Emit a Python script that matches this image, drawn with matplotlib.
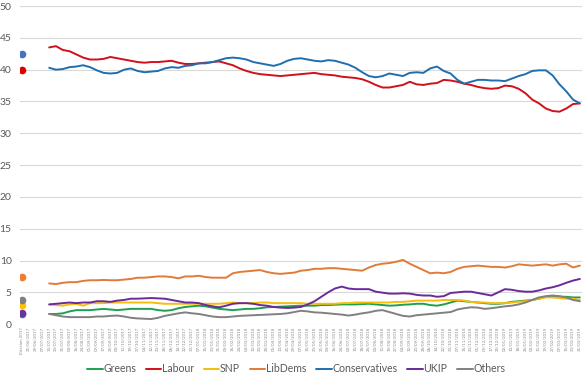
import numpy as np
import pandas as pd
import matplotlib
matplotlib.use('Agg')
import matplotlib.pyplot as plt

plt.rcParams['font.family'] = ['Lato', 'DejaVu Sans']

# category axis: first slot is the 2017 general election, then poll dates
poll_dates = pd.date_range('2017-06-21', periods=82, freq='8D')
tick_labels = ['Election 2017'] + [d.strftime('%d/%m/%Y') for d in poll_dates]
first_poll = 4  # rolling averages start a few slots after the election

parties = ['Greens', 'Labour', 'SNP', 'LibDems', 'Conservatives', 'UKIP', 'Others']
colors = ['#1FA050', '#D0101A', '#F5BE0A', '#E07B39', '#1F6FB0', '#6A2A9C', '#808080']
dot_colors = ['#1F8FA0', '#E00000', '#FFC000', '#ED7D31', '#4472C4', '#7030A0', '#7F7F7F']

election = [1.6, 40.0, 3.0, 7.4, 42.4, 1.8, 3.8]

labour = [43.5, 43.7, 43.1, 42.9, 42.4, 41.9, 41.6, 41.6, 41.7, 42.0,
          41.8, 41.6, 41.4, 41.2, 41.1, 41.2, 41.2, 41.3, 41.4, 41.1,
          40.9, 40.9, 41.0, 41.1, 41.2, 41.3, 41.0, 40.7, 40.2, 39.8,
          39.5, 39.3, 39.2, 39.1, 39.0, 39.1, 39.2, 39.3, 39.4, 39.5,
          39.3, 39.2, 39.1, 38.9, 38.8, 38.7, 38.5, 38.1, 37.6, 37.2,
          37.2, 37.4, 37.6, 38.1, 37.7, 37.6, 37.8, 37.9, 38.4, 38.3,
          38.1, 37.8, 37.6, 37.3, 37.1, 37.0, 37.1, 37.5, 37.4, 37.0,
          36.3, 35.3, 34.7, 33.9, 33.5, 33.4, 33.9, 34.6, 34.7]
conservatives = [40.3, 40.0, 40.1, 40.4, 40.5, 40.7, 40.4, 39.9, 39.5, 39.4,
                 39.5, 40.0, 40.2, 39.8, 39.6, 39.7, 39.8, 40.2, 40.4, 40.3,
                 40.6, 40.7, 41.0, 41.0, 41.2, 41.5, 41.8, 41.9, 41.8, 41.6,
                 41.2, 41.0, 40.8, 40.6, 40.9, 41.4, 41.7, 41.8, 41.6, 41.4,
                 41.3, 41.5, 41.4, 41.1, 40.8, 40.3, 39.6, 39.0, 38.8, 39.0,
                 39.4, 39.2, 39.0, 39.5, 39.6, 39.5, 40.2, 40.5, 39.8, 39.4,
                 38.4, 37.8, 38.1, 38.4, 38.4, 38.3, 38.3, 38.2, 38.6, 39.0,
                 39.3, 39.8, 39.9, 39.9, 39.1, 37.7, 36.6, 35.3, 34.7]
libdems = [6.4, 6.3, 6.5, 6.6, 6.6, 6.8, 6.9, 6.9, 6.95, 6.9,
           6.9, 7.0, 7.1, 7.3, 7.3, 7.4, 7.5, 7.5, 7.4, 7.2,
           7.5, 7.5, 7.6, 7.4, 7.3, 7.3, 7.3, 8.0, 8.2, 8.3,
           8.4, 8.5, 8.2, 8.0, 7.9, 8.0, 8.1, 8.4, 8.5, 8.7,
           8.7, 8.8, 8.8, 8.7, 8.6, 8.5, 8.4, 8.9, 9.3, 9.5,
           9.6, 9.8, 10.1, 9.5, 9.0, 8.5, 8.0, 8.1, 8.0, 8.2,
           8.7, 9.0, 9.1, 9.2, 9.1, 9.0, 9.0, 8.9, 9.1, 9.4,
           9.3, 9.2, 9.3, 9.4, 9.2, 9.4, 9.5, 8.9, 9.2]
ukip = [3.1, 3.2, 3.3, 3.4, 3.3, 3.4, 3.4, 3.6, 3.6, 3.5,
        3.7, 3.8, 4.0, 4.0, 4.05, 4.1, 4.05, 4.0, 3.8, 3.6,
        3.4, 3.4, 3.3, 3.0, 2.8, 2.65, 2.9, 3.2, 3.3, 3.3,
        3.2, 3.0, 2.9, 2.7, 2.6, 2.55, 2.6, 2.7, 3.1, 3.6,
        4.3, 5.0, 5.6, 5.9, 5.6, 5.5, 5.5, 5.5, 5.1, 4.95,
        4.8, 4.8, 4.85, 4.8, 4.6, 4.5, 4.5, 4.3, 4.4, 4.9,
        5.0, 5.1, 5.1, 4.9, 4.7, 4.5, 5.0, 5.5, 5.4, 5.2,
        5.1, 5.1, 5.3, 5.6, 5.8, 6.1, 6.5, 6.85, 7.1]
snp = [3.1, 3.0, 2.9, 3.1, 3.2, 2.9, 3.3, 3.3, 3.3, 3.4,
       3.4, 3.4, 3.4, 3.4, 3.4, 3.4, 3.3, 3.2, 3.2, 3.2,
       3.2, 3.2, 3.2, 3.2, 3.2, 3.2, 3.3, 3.4, 3.3, 3.3,
       3.3, 3.4, 3.4, 3.3, 3.3, 3.3, 3.3, 3.3, 3.2, 3.2,
       3.2, 3.2, 3.2, 3.3, 3.3, 3.4, 3.4, 3.4, 3.4, 3.4,
       3.4, 3.5, 3.5, 3.6, 3.7, 3.7, 3.7, 3.7, 3.8, 3.8,
       3.8, 3.7, 3.5, 3.4, 3.4, 3.3, 3.3, 3.3, 3.4, 3.5,
       3.6, 3.8, 4.0, 4.2, 4.2, 4.1, 4.0, 4.0, 3.8]
greens = [1.6, 1.6, 1.7, 2.0, 2.2, 2.2, 2.2, 2.3, 2.4, 2.3,
          2.2, 2.3, 2.4, 2.4, 2.4, 2.4, 2.2, 2.1, 2.2, 2.5,
          2.7, 2.8, 2.9, 2.8, 2.6, 2.4, 2.3, 2.2, 2.3, 2.4,
          2.4, 2.5, 2.65, 2.7, 2.75, 2.8, 2.85, 2.9, 2.9, 2.9,
          3.0, 3.0, 3.05, 3.1, 3.1, 3.1, 3.15, 3.2, 3.1, 3.0,
          2.9, 2.95, 3.05, 3.1, 3.2, 3.2, 3.0, 2.9, 3.1, 3.4,
          3.7, 3.6, 3.5, 3.4, 3.3, 3.2, 3.2, 3.3, 3.5, 3.6,
          3.7, 3.8, 4.0, 4.3, 4.3, 4.3, 4.3, 4.2, 4.2]
others = [1.6, 1.4, 1.2, 1.1, 1.1, 1.1, 1.1, 1.2, 1.2, 1.3,
          1.35, 1.2, 1.0, 0.9, 0.85, 0.8, 1.0, 1.3, 1.5, 1.7,
          1.85, 1.7, 1.6, 1.4, 1.2, 1.1, 1.1, 1.2, 1.3, 1.35,
          1.4, 1.45, 1.5, 1.55, 1.6, 1.7, 1.9, 2.1, 2.0, 1.85,
          1.8, 1.7, 1.6, 1.5, 1.35, 1.5, 1.7, 1.85, 2.1, 2.2,
          1.9, 1.6, 1.3, 1.2, 1.4, 1.5, 1.6, 1.7, 1.8, 1.9,
          2.3, 2.5, 2.65, 2.6, 2.4, 2.5, 2.65, 2.8, 2.9, 3.1,
          3.4, 3.8, 4.2, 4.4, 4.5, 4.4, 4.2, 3.8, 3.6]

series = [greens, labour, snp, libdems, conservatives, ukip, others]

fig = plt.figure(figsize=(5.86, 3.80), dpi=100)
ax = fig.add_axes([0.034, 0.147, 0.959, 0.837])

x = np.arange(first_poll, first_poll + len(labour))
for name, vals, c in zip(parties, series, colors):
    ax.plot(x, vals, color=c, lw=1.4, label=name, solid_capstyle='round')

for val, c in zip(election, dot_colors):
    ax.plot(0, val, 'o', color=c, markersize=5.5, markeredgewidth=0)

ax.set_ylim(0, 50)
ax.set_xlim(-0.3, len(tick_labels) - 0.7)
ax.set_yticks(range(0, 51, 5))
ax.set_xticks(range(len(tick_labels)))
ax.set_xticklabels(tick_labels, rotation=90, fontsize=3.2, color='#8C8C8C')
ax.tick_params(axis='y', labelsize=7.5, labelcolor='#595959', length=0, pad=6)
ax.tick_params(axis='x', length=0, pad=2)
ax.grid(axis='y', color='#D9D9D9', lw=0.8)
ax.set_axisbelow(True)
for s in ax.spines.values():
    s.set_visible(False)

fig.legend(loc='center', bbox_to_anchor=(0.505, 0.029), ncol=7, frameon=False,
           fontsize=7.6, handlelength=1.5, handletextpad=0.05, columnspacing=0.9,
           labelcolor='#595959')

fig.savefig('out.png', dpi=100)
